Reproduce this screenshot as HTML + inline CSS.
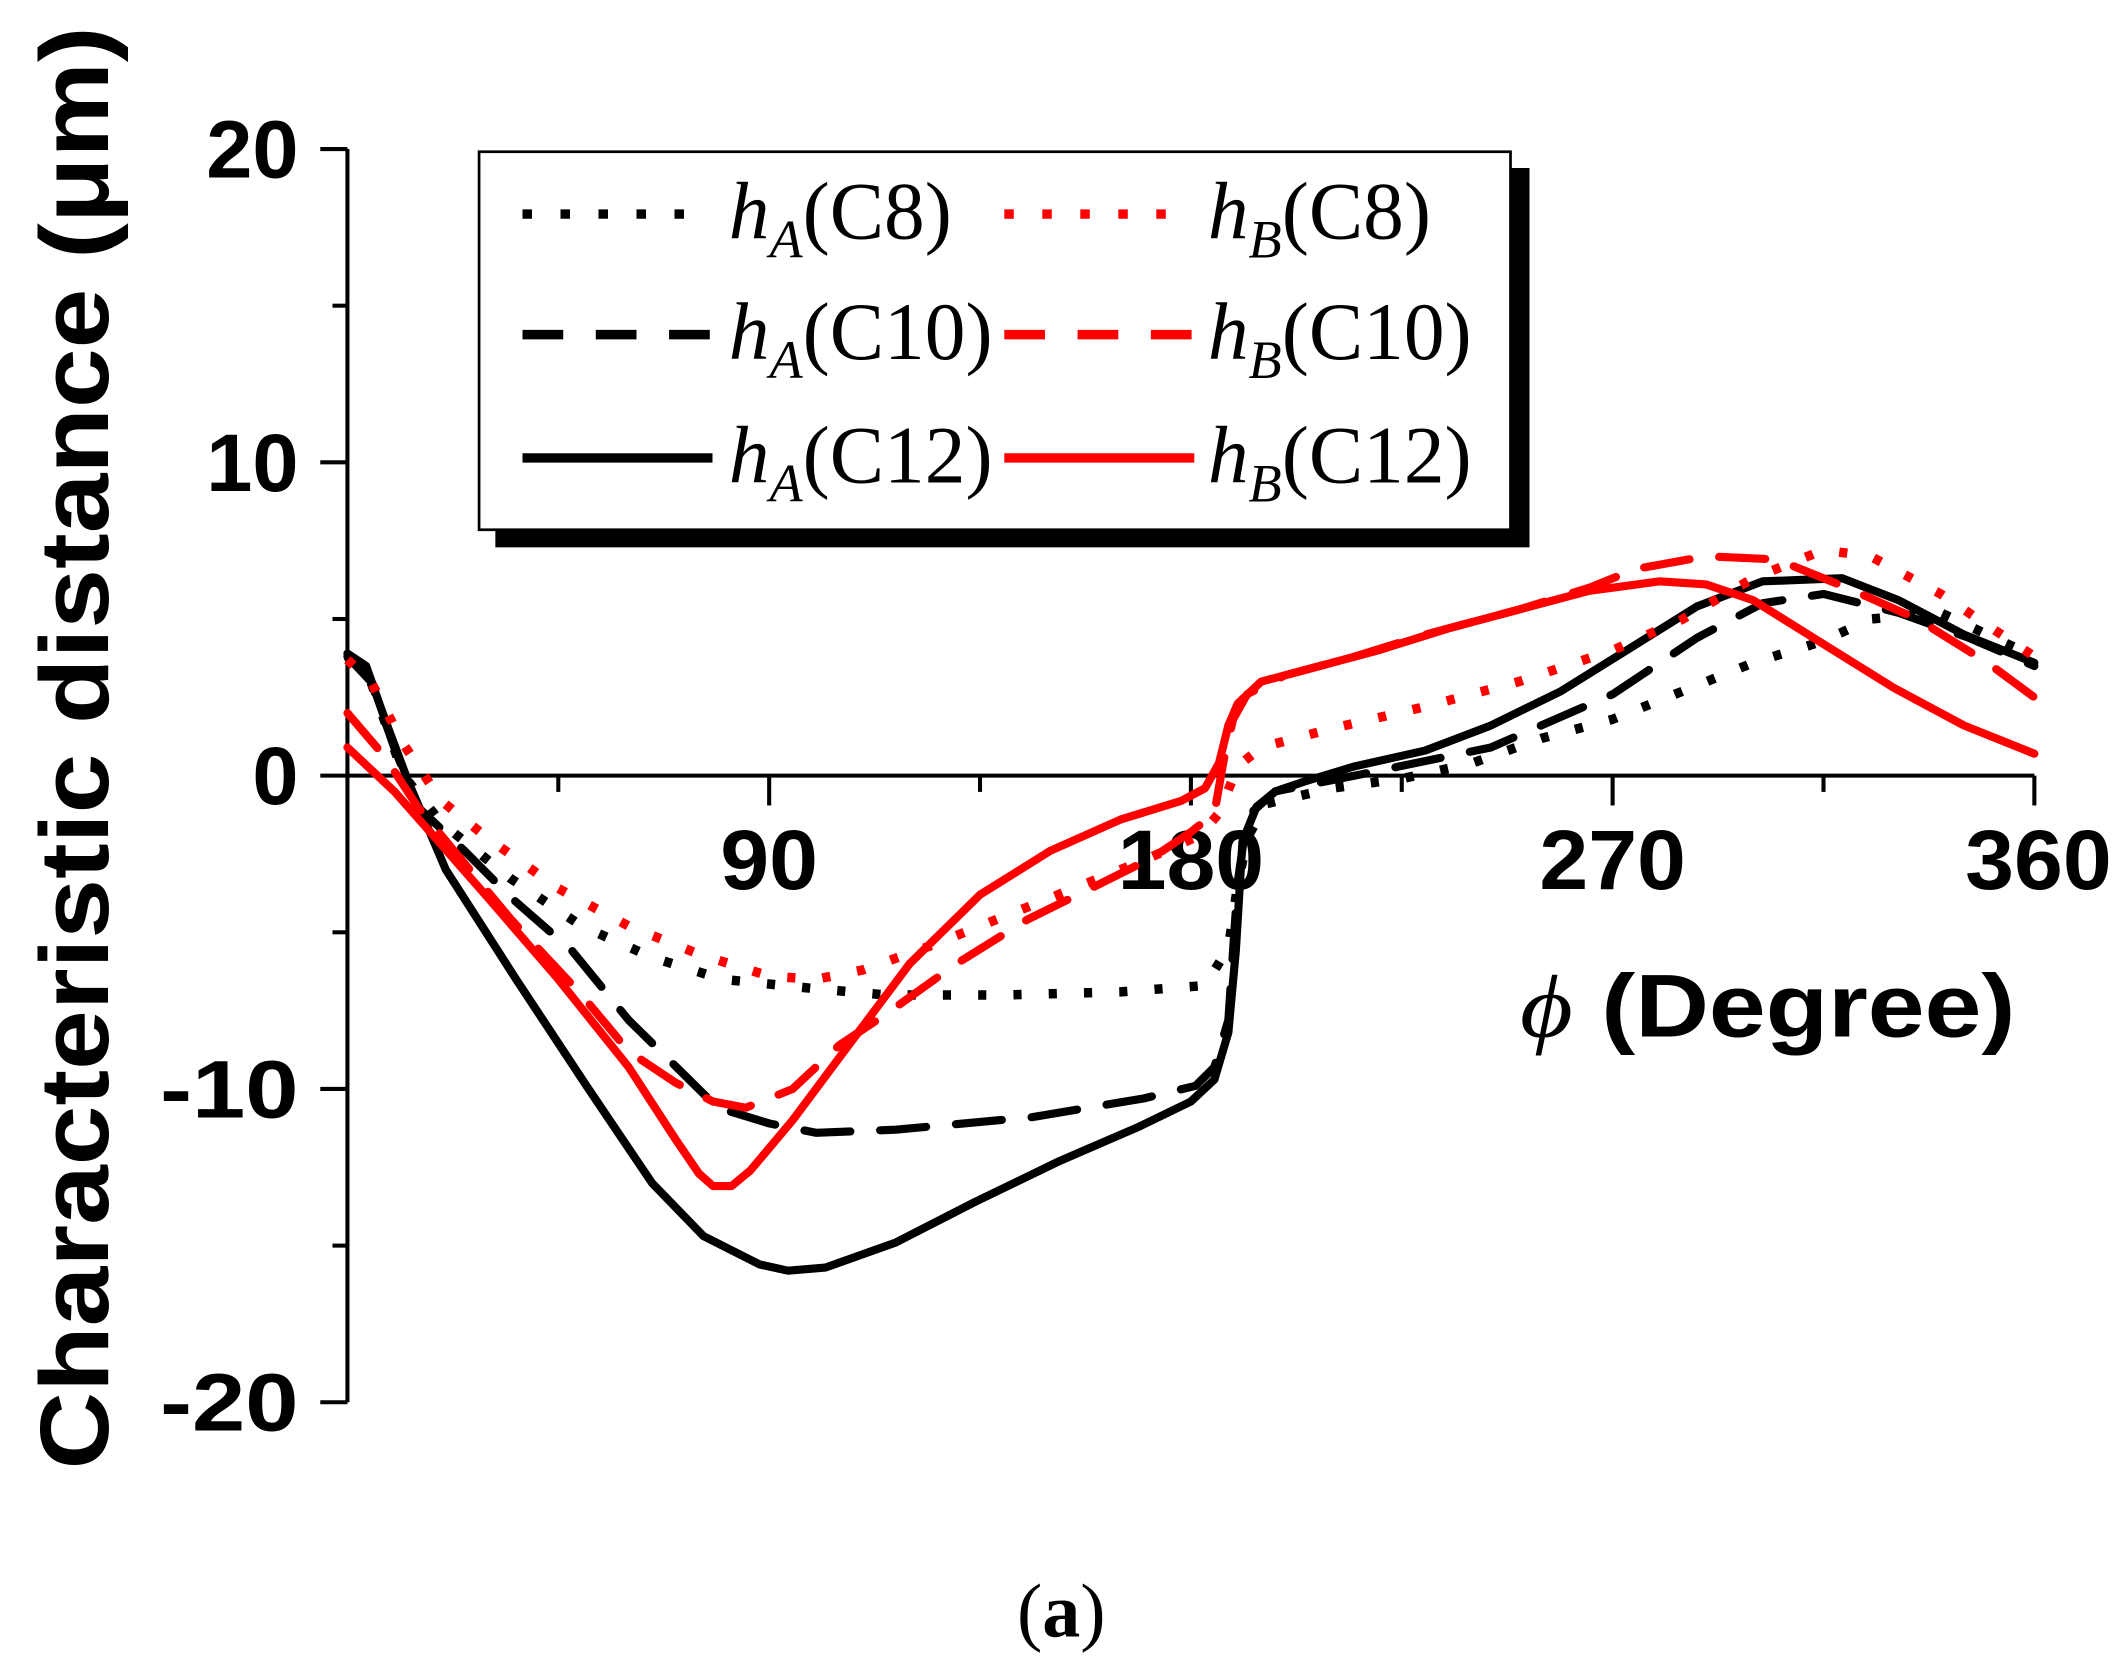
<!DOCTYPE html>
<html><head><meta charset="utf-8"><style>
html,body{margin:0;padding:0;background:#fff;}
svg{display:block;}
</style></head><body>
<svg id="chart" width="2128" height="1680" viewBox="0 0 1568 1240" preserveAspectRatio="none" xmlns="http://www.w3.org/2000/svg">
<rect x="0" y="0" width="1568" height="1240" fill="#fff"/>
<g id="axes"></g>
<g id="series"></g>
<g id="legend">
  <rect x="365" y="124" width="762" height="280" fill="#000"/>
  <rect x="353" y="112" width="760" height="279" fill="#fff" stroke="#000" stroke-width="2"/>
</g>
<text x="55" y="552" transform="rotate(-90 55 552)" text-anchor="middle" dominant-baseline="central" font-family="Liberation Sans, sans-serif" font-weight="bold" font-size="72" textLength="1065" lengthAdjust="spacingAndGlyphs">Characteristic distance (μm)</text>
<text x="1120" y="765" font-family="Liberation Sans, sans-serif" font-weight="bold" font-size="66" textLength="365" lengthAdjust="spacingAndGlyphs"><tspan font-family="Liberation Serif, serif" font-style="italic" font-weight="normal">ϕ</tspan> (Degree)</text>
<text x="782" y="1208" text-anchor="middle" font-family="Liberation Serif, serif" font-size="56">(<tspan font-weight="bold">a</tspan>)</text>
</svg>
<script>
const xTicks = [0, 90, 180, 270, 360];
const yTicks = [-20, -10, 0, 10, 20];
const seriesNames = ['hA(C8)', 'hA(C10)', 'hA(C12)', 'hB(C8)', 'hB(C10)', 'hB(C12)'];
const hA_C8_x = [0,5,12,20,35,50,65,80,100,115,140,165,183,188,190,192,196,210,225,240,255,270,285,300,315,325,340,360];
const hA_C8_y = [3.8,3.0,0,-1.5,-3.3,-4.8,-5.8,-6.5,-6.8,-7.0,-7.0,-6.9,-6.7,-5.5,-3.5,-2.0,-0.9,-0.4,-0.1,0.4,1.2,1.8,2.7,3.6,4.3,5.0,5.2,3.8];
const hA_C10_x = [0,5,10,15,25,35,48,60,79,90,100,117,146,170,181,185,188,190,192,198,215,244,270,288,302,315,331,346,360];
const hA_C10_y = [3.8,3.0,0.9,-1.0,-2.4,-3.9,-5.6,-7.8,-10.6,-11.1,-11.4,-11.3,-10.9,-10.3,-9.9,-9.3,-7.8,-3.4,-1.3,-0.5,0,0.9,2.6,4.4,5.5,5.8,5.2,4.4,3.5];
const hA_C12_x = [0,4,8,13,21,36,51,65,76,88,94,102,117,134,152,169,180,185,188,189.6,191,194,198,204,215,230,244,259,273,288,302,319,331,345,360];
const hA_C12_y = [3.9,3.5,1.8,-0.2,-3.0,-6.5,-9.9,-13.0,-14.7,-15.6,-15.8,-15.7,-14.9,-13.6,-12.3,-11.2,-10.4,-9.7,-8.2,-5.6,-2.1,-1.0,-0.5,-0.2,0.3,0.8,1.6,2.7,4.0,5.4,6.2,6.3,5.6,4.5,3.6];
const hB_C8_x = [0,5,12,20,30,45,60,75,90,100,110,125,140,155,170,182,186,190,195,210,230,250,270,285,300,315,325,340,360];
const hB_C8_y = [3.7,3.0,1.0,-0.8,-2.0,-3.6,-4.8,-5.7,-6.4,-6.5,-6.2,-5.4,-4.5,-3.6,-2.7,-1.9,-1.2,0.3,0.9,1.5,2.2,3.0,4.0,5.0,6.3,7.2,7.0,5.8,3.8];
const hB_C10_x = [0,8,15,25,35,50,60,70,78,85,95,105,115,130,145,160,172,180,185,187,189,192,200,215,230,250,265,275,290,305,320,335,350,360];
const hB_C10_y = [2.0,0.6,-1.0,-2.8,-4.6,-7.0,-8.8,-9.8,-10.4,-10.6,-10.0,-8.6,-7.6,-6.0,-4.6,-3.5,-2.6,-1.8,-1.2,0.5,1.8,2.6,3.2,3.8,4.5,5.3,6.0,6.6,7.0,6.9,6.0,5.0,3.6,2.5];
const hB_C12_x = [0,10,20,30,45,60,70,75,78,82,86,95,105,120,135,150,165,178,183,186,188,190,195,205,220,235,250,265,280,290,300,315,330,345,360];
const hB_C12_y = [0.9,-0.5,-2.2,-3.9,-6.5,-9.3,-11.6,-12.7,-13.1,-13.1,-12.6,-11.0,-9.0,-6.0,-3.8,-2.4,-1.4,-0.8,-0.4,0.4,1.6,2.3,3.0,3.4,4.0,4.7,5.3,5.9,6.2,6.1,5.6,4.2,2.8,1.6,0.7];

const NS = 'http://www.w3.org/2000/svg';
const X0 = 256, X1 = 1499, Y0 = 1035, Y1 = 110;
function sx(d){ return X0 + (d - 0) / 360 * (X1 - X0); }
function sy(v){ return Y0 - (v + 20) / 40 * (Y0 - Y1); }
function mk(tag, attrs, parent){ const e = document.createElementNS(NS, tag); for (const k in attrs) e.setAttribute(k, attrs[k]); parent.appendChild(e); return e; }

const axes = document.getElementById('axes');
let e;
e = mk('line', {x1: X0, y1: Y1, x2: X0, y2: Y0, stroke: '#000', 'stroke-width': 3}, axes);


e = mk('line', {x1: X0, y1: sy(0), x2: X1, y2: sy(0), stroke: '#000', 'stroke-width': 3}, axes);


for (let v = -20; v <= 20; v += 5) {
  const major = v % 10 === 0;
  e = mk('line', {x1: X0 - (major ? 20 : 11), y1: sy(v), x2: X0, y2: sy(v), stroke: '#000', 'stroke-width': 3}, axes);
  
  
}
yTicks.forEach(v => {
  const w = String(v).length * 34;
  e = mk('text', {x: 220, y: sy(v) + 21, 'text-anchor': 'end', 'font-family': 'Liberation Sans, sans-serif', 'font-weight': 'bold', 'font-size': 60, textLength: w, lengthAdjust: 'spacingAndGlyphs'}, axes);
  e.textContent = String(v);
  
  
});
for (let d = 45; d <= 360; d += 45) {
  const major = d % 90 === 0;
  e = mk('line', {x1: sx(d), y1: sy(0), x2: sx(d), y2: sy(0) + (major ? 22 : 12), stroke: '#000', 'stroke-width': 3}, axes);
  
  
}
xTicks.slice(1).forEach(d => {
  const w = String(d).length * 36;
  e = mk('text', {x: sx(d) + (d === 360 ? 3 : 0), y: 656, 'text-anchor': 'middle', 'font-family': 'Liberation Sans, sans-serif', 'font-weight': 'bold', 'font-size': 62, textLength: w, lengthAdjust: 'spacingAndGlyphs'}, axes);
  e.textContent = String(d);
  
  
});

const styles = {
  dot: {dash: '6 20', cap: 'butt', w: 7},
  dash: {dash: '34 22', cap: 'round', w: 6},
  solid: {dash: 'none', cap: 'round', w: 6}
};
function draw(xs, ys, color, st, name){
  const d = xs.map((x, i) => (i ? 'L' : 'M') + sx(x).toFixed(1) + ',' + sy(ys[i]).toFixed(1)).join(' ');
  const s = styles[st];
  const p = mk('path', {d: d, fill: 'none', stroke: color, 'stroke-width': s.w, 'stroke-dasharray': s.dash, 'stroke-linecap': s.cap, 'stroke-linejoin': 'round'}, document.getElementById('series'));
  
  
}
draw(hA_C8_x, hA_C8_y, '#000', 'dot', 'line-ha-c8');
draw(hA_C10_x, hA_C10_y, '#000', 'dash', 'line-ha-c10');
draw(hA_C12_x, hA_C12_y, '#000', 'solid', 'line-ha-c12');
draw(hB_C8_x, hB_C8_y, '#f00', 'dot', 'line-hb-c8');
draw(hB_C10_x, hB_C10_y, '#f00', 'dash', 'line-hb-c10');
draw(hB_C12_x, hB_C12_y, '#f00', 'solid', 'line-hb-c12');

const legend = document.getElementById('legend');
const rows = [158, 247, 338];
const stl = ['dot', 'dash', 'solid'];
const labs = ['C8', 'C10', 'C12'];
rows.forEach((ry, r) => {
  [[385, '#000', 'A', 537], [740, '#f00', 'B', 890]].forEach(([lx, col, sub, tx]) => {
    const s = styles[stl[r]];
    e = mk('line', {x1: lx, y1: ry, x2: lx + 140, y2: ry, stroke: col, 'stroke-width': 7, 'stroke-dasharray': s.dash === '6 20' ? '7 21' : (s.dash === 'none' ? 'none' : '30 24'), 'stroke-linecap': 'butt'}, legend);
    
    
    e = mk('text', {x: tx, y: ry + 18, 'font-family': 'Liberation Serif, serif', 'font-size': 60}, legend);
    
    
    const t1 = mk('tspan', {'font-style': 'italic'}, e); t1.textContent = 'h';
    const t2 = mk('tspan', {'font-style': 'italic', 'font-size': 40, dy: 14}, e); t2.textContent = sub;
    const t3 = mk('tspan', {dy: -14}, e); t3.textContent = '(' + labs[r] + ')';
  });
});
</script>
</body></html>
